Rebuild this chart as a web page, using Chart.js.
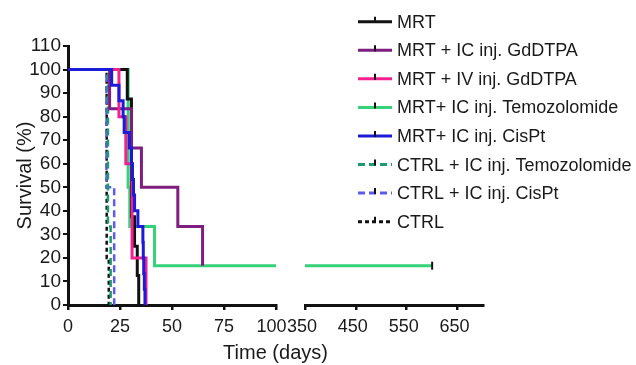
<!DOCTYPE html>
<html lang="en">
  <head>
    <meta charset="UTF-8" />
    <title>Survival</title>
    <script src="https://cdn.jsdelivr.net/npm/chart.js"></script>
    <style>
      body {
        margin: 0;
        background: #ffffff;
      }
    </style>
  </head>
  <body>
    <canvas id="survChart" width="636" height="365"></canvas>
    <script>
      // group names (legend order)
      const groups = [
        "MRT",
        "MRT + IC inj. GdDTPA",
        "MRT + IV inj. GdDTPA",
        "MRT+ IC inj. Temozolomide",
        "MRT+ IC inj. CisPt",
        "CTRL + IC inj. Temozolomide",
        "CTRL + IC inj. CisPt",
        "CTRL",
      ];

      // Kaplan-Meier steps: day of event / survival after it (%)
      const mrtDays = [0, 28.5, 30.5, 32, 33.3, 34];
      const mrtSurv = [100, 87.5, 37.5, 25, 12.5, 0];
      const icGdDays = [0, 20, 30.5, 35.3, 52.8, 64.7];
      const icGdSurv = [100, 83.3, 66.7, 50, 33.3, 16.7];
      const ivGdDays = [0, 24.5, 27.8, 30.8, 37.5];
      const ivGdSurv = [100, 80, 60, 20, 0];
      const temoDays = [0, 28.9, 29.7, 41.6, 100];
      const temoSurv = [100, 50, 33.3, 16.7, 16.7];
      const temoLateDays = [350, 600];
      const temoLateSurv = [16.7, 16.7];
      const cisDays = [0, 21, 24.5, 26.5, 27, 29.5, 30.5, 31, 31.5, 32, 33.6, 36, 36.2, 36.4, 36.7, 37];
      const cisSurv = [100, 93.3, 86.7, 80, 73.3, 66.7, 60, 53.3, 46.7, 40, 33.3, 26.7, 20, 13.3, 6.7, 0];
      const ctrlTemoDays = [0, 19.2, 20.5];
      const ctrlTemoSurv = [100, 33.3, 0];
      const ctrlCisDays = [0, 18.5, 22.2];
      const ctrlCisSurv = [100, 50, 0];
      const ctrlDays = [0, 18.6, 19.6];
      const ctrlSurv = [100, 20, 0];

      // axis ticks
      const earlyTicks = [0, 25, 50, 75, 100];
      const lateTicks = [350, 450, 550, 650];
      const survTicks = [0, 10, 20, 30, 40, 50, 60, 70, 80, 90, 100, 110];

      const font = "'Liberation Sans', Arial, sans-serif";
      const ink = "#1a1a1a";

      function pts(days, surv) {
        return days.map((d, i) => ({ x: d, y: surv[i] }));
      }

      function curve(label, days, surv, color, dash, extra) {
        return Object.assign(
          {
            label: label,
            data: pts(days, surv),
            borderColor: color,
            borderWidth: dash.length ? 2.5 : 3,
            borderDash: dash,
            stepped: true,
            pointRadius: 0,
            fill: false,
            xAxisID: "x",
            yAxisID: "y",
            legendDash: dash,
          },
          extra || {}
        );
      }

      // "order" only sets which curve sits on top where they overlap
      const datasets = [
        curve(groups[0], mrtDays, mrtSurv, "#111111", [], { order: 2 }),
        curve(groups[1], icGdDays, icGdSurv, "#7d1e80", [], { order: 0 }),
        curve(groups[2], ivGdDays, ivGdSurv, "#f5208f", [], { order: -1 }),
        curve(groups[3], temoDays, temoSurv, "#35d27a", [], { order: 3 }),
        curve(groups[4], cisDays, cisSurv, "#1c1cd8", [], { order: -2 }),
        curve(groups[5], ctrlTemoDays, ctrlTemoSurv, "#1f9a6e", [7, 4], { order: 1 }),
        curve(groups[6], ctrlCisDays, ctrlCisSurv, "#5b5bef", [7, 4], { order: 1 }),
        curve(groups[7], ctrlDays, ctrlSurv, "#111111", [4, 3], { order: 1 }),
        // late part of the Temozolomide curve, on the right axis segment
        curve(groups[3], temoLateDays, temoLateSurv, "#35d27a", [], {
          xAxisID: "xr",
          hideInLegend: true,
          pointRadius: [0, 4],
          pointStyle: "line",
          rotation: 90,
          pointBorderColor: "#111111",
          pointBorderWidth: 2,
        }),
      ];

      // legend drawn inside the plot, upper right
      const insideLegend = {
        id: "insideLegend",
        afterDraw(chart) {
          const ctx = chart.ctx;
          let row = 0;
          ctx.save();
          ctx.font = "18px " + font;
          ctx.textBaseline = "middle";
          chart.data.datasets.forEach((ds) => {
            if (ds.hideInLegend) return;
            const y = 21.7 + row * 28.57;
            ctx.strokeStyle = ds.borderColor;
            ctx.lineWidth = 3;
            ctx.setLineDash(ds.legendDash);
            ctx.beginPath();
            ctx.moveTo(358, y);
            ctx.lineTo(392, y);
            ctx.stroke();
            ctx.setLineDash([]);
            ctx.strokeStyle = "#111111";
            ctx.lineWidth = 2;
            ctx.beginPath();
            ctx.moveTo(375, y - 5);
            ctx.lineTo(375, y + 1);
            ctx.stroke();
            ctx.fillStyle = ink;
            ctx.fillText(ds.label, 397, y + 1);
            row++;
          });
          ctx.restore();
        },
      };

      const tickFont = { family: font, size: 18 };
      const xAxisBase = {
        type: "linear",
        position: "bottom",
        stack: "time",
        border: { display: true, color: "#111111", width: 3 },
        grid: {
          display: true,
          drawOnChartArea: false,
          drawTicks: true,
          tickLength: 5,
          color: "#111111",
          lineWidth: 2.5,
        },
        ticks: { color: ink, font: tickFont, padding: 6, maxRotation: 0, autoSkip: false },
        afterFit: (scale) => {
          scale.height = 33;
        },
      };

      new Chart(document.getElementById("survChart"), {
        type: "line",
        data: { datasets: datasets },
        options: {
          responsive: false,
          animation: false,
          layout: { padding: { left: 0, right: 153, top: 46, bottom: 0 } },
          scales: {
            x: Object.assign({}, xAxisBase, {
              min: 0,
              max: 100,
              stackWeight: 208,
              ticks: Object.assign({}, xAxisBase.ticks, {
                // nudge the last label off the "350" beside it
                callback: (v) => (v === 100 ? v + "\u2002" : v),
              }),
              afterBuildTicks: (scale) => {
                scale.ticks = earlyTicks.map((v) => ({ value: v }));
              },
            }),
            xgap: {
              type: "linear",
              position: "bottom",
              stack: "time",
              stackWeight: 29,
              min: 0,
              max: 1,
              border: { display: false },
              grid: { display: false },
              ticks: { display: false },
              afterFit: (scale) => {
                scale.height = 33;
              },
            },
            xr: Object.assign({}, xAxisBase, {
              min: 350,
              max: 700,
              stackWeight: 178,
              ticks: Object.assign({}, xAxisBase.ticks, { labelOffset: -3 }),
              afterBuildTicks: (scale) => {
                scale.ticks = lateTicks.map((v) => ({ value: v }));
              },
            }),
            y: {
              type: "linear",
              position: "left",
              min: 0,
              max: 110,
              border: { display: true, color: "#111111", width: 3 },
              grid: {
                drawOnChartArea: false,
                drawTicks: true,
                tickLength: 5,
                color: "#111111",
                lineWidth: 2,
              },
              ticks: { color: ink, font: { family: font, size: 19 }, padding: 2, autoSkip: false },
              afterBuildTicks: (scale) => {
                scale.ticks = survTicks.map((v) => ({ value: v }));
              },
              title: {
                display: true,
                text: "Survival (%)",
                color: ink,
                font: { family: font, size: 20 },
                padding: { top: 13, bottom: 0 },
              },
              afterFit: (scale) => {
                scale.width = 68;
              },
            },
          },
          plugins: {
            legend: { display: false },
            tooltip: { enabled: false },
            title: {
              display: true,
              text: "Time (days)",
              position: "bottom",
              fullSize: false,
              color: ink,
              font: { family: font, size: 20, weight: "normal" },
              padding: { top: 3, bottom: 0 },
            },
          },
        },
        plugins: [insideLegend],
      });
    </script>
  </body>
</html>
